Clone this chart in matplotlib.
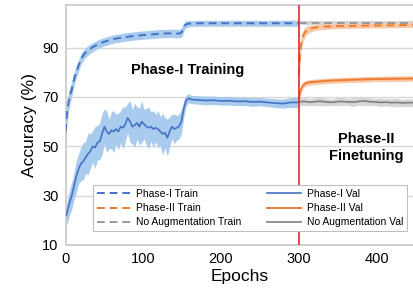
import matplotlib
matplotlib.use("Agg")
import matplotlib.pyplot as plt
import numpy as np

plt.rcParams['font.family'] = ['Liberation Sans', 'DejaVu Sans']

# ---------------- data ----------------
p1_train_ep = [0, 2, 4, 6, 8, 10, 13, 16, 20, 25, 30, 36, 43, 50, 57, 65, 75, 87, 100,
               112, 122, 135, 147, 150, 153, 157, 162, 175, 200, 225, 250, 275, 300]
p1_train = [56, 64, 68, 71, 73, 76, 79.5, 82, 85.5, 87.8, 89.2, 90.4, 91.6, 92.4, 93.1,
            93.7, 94.2, 94.7, 95.1, 95.4, 95.7, 95.8, 95.7, 96.5, 99.0, 99.7, 99.8, 99.9,
            99.9, 99.9, 99.9, 99.9, 99.9]
p1_train_sd = [6, 5, 4, 3.5, 3, 3, 2.6, 2.4, 2.2, 2, 1.9, 1.8, 1.8, 1.7, 1.7, 1.7, 1.7,
               1.7, 1.7, 1.7, 1.7, 1.7, 1.7, 1.9, 1.6, 1.3, 1.2, 1.2, 1.2, 1.2, 1.2, 1.2, 1.3]

p1_val_ep = [1, 3, 5, 8, 11, 14, 17, 20, 23, 26, 29, 32, 35, 38, 41, 44, 47, 50, 53, 56,
             59, 62, 65, 68, 71, 74, 77, 80, 83, 86, 89, 92, 95, 98, 101, 104, 107, 110,
             113, 116, 119, 122, 125, 128, 131, 134, 137, 140, 143, 146, 149, 152, 155,
             158, 162, 170, 180, 190, 200, 210, 220, 230, 240, 250, 260, 270, 280, 290, 300]
p1_val = [22, 24.5, 27, 30, 34, 38, 41, 43, 44, 45.5, 47, 48, 50, 49.5, 51.5, 52, 55, 58,
          56, 55, 56.5, 56, 57, 56, 58, 57.5, 59, 61.5, 60, 58, 58.5, 59.5, 58, 60, 59,
          58, 57.5, 58, 57, 57.5, 57, 56, 55, 55.5, 53.5, 56, 58, 57, 57.5, 58, 60, 65,
          68.5, 69.5, 69, 68.8, 68.6, 68.7, 68.4, 68.5, 68.2, 68.3, 68, 68.1, 67.8, 67.5,
          67.3, 67.8, 67.8]
p1_val_sd = [4, 5, 5, 5.5, 5.5, 6.5, 6, 7, 7.5, 6.5, 8.5, 7, 6.5, 8.5, 7, 7.5, 8.5, 7,
             8.5, 6, 7.5, 8.5, 6, 7.5, 6.5, 8.5, 7, 6, 8.5, 7, 9, 6.5, 7.5, 8.5, 6, 7.5,
             8.5, 6, 7.5, 5.5, 7.5, 6, 8.5, 6, 7.5, 6, 5, 6, 5, 5, 5, 3.5, 2.2, 1.8, 1.7,
             1.7, 1.8, 1.7, 1.7, 1.8, 1.7, 1.7, 1.8, 1.7, 1.7, 1.8, 1.8, 2, 2.2]

p2_train_ep = [300, 301, 302, 303, 304, 306, 308, 310, 313, 317, 322, 330, 345, 360,
               380, 400, 425, 447]
p2_train = [79, 84, 88, 91, 93, 95, 96.2, 96.9, 97.5, 97.9, 98.2, 98.5, 98.7, 98.8,
            98.9, 99.0, 99.1, 99.2]
p2_train_sd = [4.5, 4, 3.5, 3, 2.6, 2.3, 2, 1.7, 1.5, 1.3, 1.2, 1.1, 1, 1, 1, 1, 1, 1]

p2_val_ep = [300, 301, 302, 303, 305, 307, 310, 315, 322, 330, 345, 360, 380, 400, 425, 447]
p2_val = [68.5, 70.5, 72, 73.2, 74.5, 75.2, 75.7, 76, 76.2, 76.4, 76.7, 76.9, 77.1,
          77.3, 77.4, 77.5]
p2_val_sd = [1.3, 1.3, 1.3, 1.2, 1.2, 1.1, 1.1, 1.1, 1.1, 1.1, 1.1, 1.1, 1.1, 1.1, 1.1, 1.1]

na_train_ep = [300, 350, 400, 447]
na_train = [100.1, 100.1, 100.1, 100.1]
na_train_sd = [0.9, 0.9, 0.9, 0.9]

na_val_ep = [300, 307, 314, 321, 328, 335, 342, 349, 356, 363, 370, 377, 384, 391,
             398, 405, 412, 419, 426, 433, 440, 447]
na_val = [68.0, 68.2, 67.9, 68.1, 68.3, 68.0, 67.8, 68.1, 68.2, 68.0, 67.9, 68.2,
          68.4, 68.1, 68.0, 67.8, 67.9, 67.7, 67.8, 67.6, 67.7, 67.7]
na_val_sd = [1.5, 1.8, 1.4, 1.6, 1.9, 1.5, 1.3, 1.7, 1.6, 1.4, 1.8, 1.5, 1.9, 1.6,
             1.4, 1.7, 1.5, 1.6, 1.8, 1.4, 1.6, 1.5]

switch_epoch = 300

# ---------------- style ----------------
BLUE, ORANGE, GRAY, DGRAY = '#4472C4', '#ED7D31', '#999999', '#7F7F7F'
BLUE_F, ORANGE_F, GRAY_F = '#A9CCEE', '#F8C7A4', '#D6D6D6'

fig = plt.figure(figsize=(4.13, 2.95), dpi=100)
ax = fig.add_axes([0.1586, 0.1695, 0.8414, 0.8136])


def band(x, y, sd, color):
    x = np.asarray(x, float); y = np.asarray(y, float); sd = np.asarray(sd, float)
    ax.fill_between(x, y - sd, y + sd, color=color, lw=0, zorder=2)

band(p1_train_ep, p1_train, p1_train_sd, BLUE_F)
band(p1_val_ep, p1_val, p1_val_sd, BLUE_F)
band(na_train_ep, na_train, na_train_sd, GRAY_F)
band(na_val_ep, na_val, na_val_sd, GRAY_F)
band(p2_train_ep, p2_train, p2_train_sd, ORANGE_F)
band(p2_val_ep, p2_val, p2_val_sd, ORANGE_F)

h1, = ax.plot(p1_train_ep, p1_train, color=BLUE, ls=(0, (4, 2.5)), lw=1.4, zorder=4,
              label='Phase-I Train')
h2, = ax.plot(p2_train_ep, p2_train, color=ORANGE, ls=(0, (4, 2.5)), lw=1.4, zorder=4,
              label='Phase-II Train')
h3, = ax.plot(na_train_ep, na_train, color=GRAY, ls=(0, (4, 2.5)), lw=1.4, zorder=3,
              label='No Augmentation Train')
h4, = ax.plot(p1_val_ep, p1_val, color=BLUE, lw=1.2, zorder=4, label='Phase-I Val')
h5, = ax.plot(p2_val_ep, p2_val, color=ORANGE, lw=1.4, zorder=4, label='Phase-II Val')
h6, = ax.plot(na_val_ep, na_val, color=DGRAY, lw=1.2, zorder=3,
              label='No Augmentation Val')

ax.axvline(switch_epoch, color='#E0282E', lw=1.2, zorder=5)

ax.set_xlim(0, 447)
ax.set_ylim(10, 107.3)
ax.set_yticks([10, 30, 50, 70, 90])
ax.set_xticks([0, 100, 200, 300, 400])
ax.grid(axis='y', color='#D9D9D9', lw=1, zorder=0)
ax.set_axisbelow(True)
for s in ['left', 'bottom', 'top']:
    ax.spines[s].set_color('#C8C8C8')
    ax.spines[s].set_linewidth(1.2)
ax.spines['right'].set_visible(False)
ax.tick_params(length=0, labelsize=10.5, pad=5, colors='#000000')
ax.set_xlabel('Epochs', fontsize=12.5, labelpad=2)
ax.set_ylabel('Accuracy (%)', fontsize=12.5, labelpad=4)

ax.text(157, 81, 'Phase-I Training', fontsize=10.5, fontweight='bold',
        ha='center', va='center', zorder=6)
ax.text(387, 49.5, 'Phase-II\nFinetuning', fontsize=10.5, fontweight='bold',
        ha='center', va='center', linespacing=1.3, zorder=6)

leg = ax.legend(handles=[h1, h2, h3, h4, h5, h6], ncol=2, fontsize=7.5,
                loc='lower left', bbox_to_anchor=(0.079, 0.058, 0.904, 0.2),
                mode='expand', frameon=True, fancybox=False, framealpha=1,
                edgecolor='#BFBFBF', handlelength=3.2, handletextpad=0.6,
                labelspacing=0.4, borderpad=0.35, borderaxespad=0)
leg.get_frame().set_linewidth(0.8)
leg.set_zorder(7)

fig.savefig('out.png', dpi=100)
